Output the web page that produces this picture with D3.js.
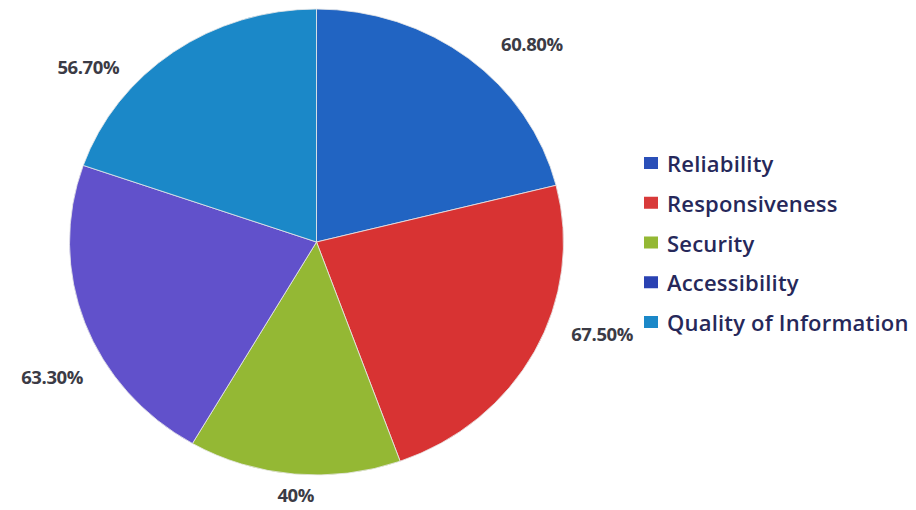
<!DOCTYPE html>
<html>
<head>
<meta charset="utf-8">
<script src="https://cdn.jsdelivr.net/npm/d3@7"></script>
<style>
  html, body { margin: 0; padding: 0; background: #fff; }
  svg { display: block; }
</style>
</head>
<body>
<svg id="chart" width="916" height="510"></svg>
<script>
const categories = ["Reliability", "Responsiveness", "Security", "Accessibility", "Quality of Information"];
const values = [60.8, 67.5, 40, 63.3, 56.7];
const valueLabels = ["60.80%", "67.50%", "40%", "63.30%", "56.70%"];
const sliceColors = ["#2164c2", "#d83333", "#94b834", "#6151cb", "#1b88c8"];
const legendColors = ["#2a4fb8", "#d83a3a", "#94b834", "#2a42b2", "#1b88c8"];

const svg = d3.select("#chart");
const cx = 316.5, cy = 242, r = 233, sx = 1.06;

const pie = d3.pie().sort(null).value(d => d.v);
const arcs = pie(categories.map((c, i) => ({ c, v: values[i], i })));
const arc = d3.arc().innerRadius(0).outerRadius(r);

const g = svg.append("g").attr("transform", `translate(${cx},${cy}) scale(${sx},1)`);
g.selectAll("path").data(arcs).join("path")
  .attr("d", arc)
  .attr("fill", d => sliceColors[d.data.i])
  .attr("stroke", "#e8e8e8")
  .attr("stroke-width", 0.8);

// data labels outside the slices
const labelArc = d3.arc().innerRadius(r + 36).outerRadius(r + 36);
const labelOffsets = [[40, 14], [34, -35], [5, -15], [3, 41], [-63, 44]];
svg.append("g").selectAll("text").data(arcs).join("text")
  .attr("x", d => cx + labelArc.centroid(d)[0] * sx + labelOffsets[d.data.i][0])
  .attr("y", d => cy + labelArc.centroid(d)[1] + labelOffsets[d.data.i][1])
  .attr("text-anchor", "middle")
  .attr("dominant-baseline", "central")
  .attr("font-family", "'Open Sans', sans-serif")
  .attr("font-weight", 700)
  .attr("font-size", 18.5)
  .attr("fill", "#3b3b45")
  .attr("letter-spacing", -0.4)
  .text(d => valueLabels[d.data.i]);

// legend
const ly = d3.scalePoint().domain(categories).range([163, 322]);
const leg = svg.append("g");
const items = leg.selectAll("g").data(categories).join("g")
  .attr("transform", d => `translate(644,${ly(d)})`);
items.append("rect")
  .attr("x", 0).attr("y", -6).attr("width", 14).attr("height", 12)
  .attr("fill", (d, i) => legendColors[i]);
items.append("text")
  .attr("x", 23).attr("y", 0)
  .attr("dominant-baseline", "central")
  .attr("font-family", "'Open Sans', sans-serif")
  .attr("font-weight", 600)
  .attr("font-size", 22)
  .attr("fill", "#26285a")
  .attr("letter-spacing", 0.2)
  .text(d => d);
</script>
</body>
</html>
